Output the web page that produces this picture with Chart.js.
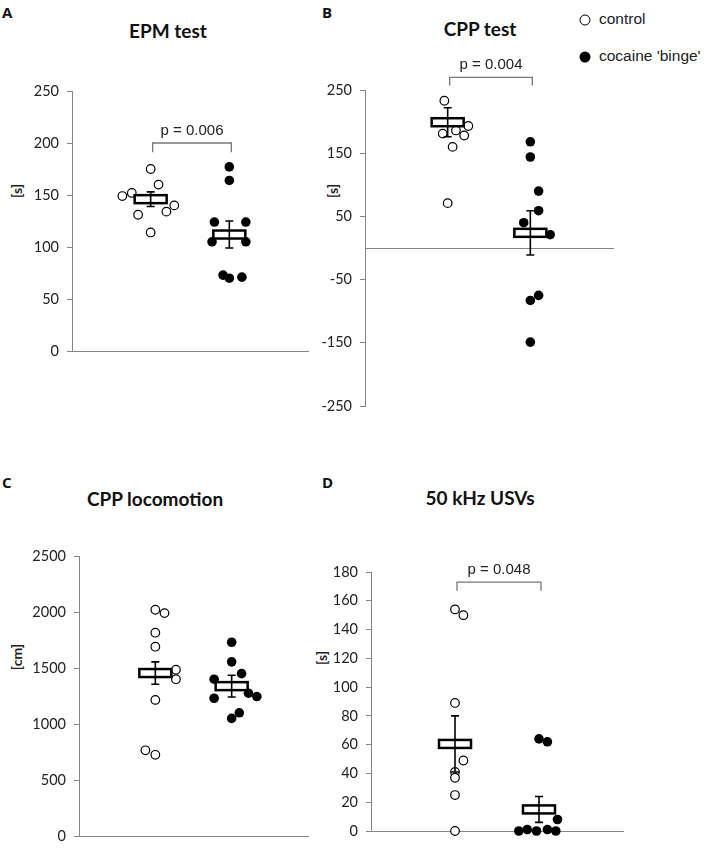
<html>
<head>
<title>EPM, CPP and USV results</title>
<script src="https://cdn.jsdelivr.net/npm/chart.js@4.4.0/dist/chart.umd.min.js"></script>
<style>
	body { margin: 0; background: #fff; width: 709px; height: 863px; position: relative; overflow: hidden; }
	canvas { position: absolute; }
	.letter { position: absolute; font: bold 15px "Open Sans", sans-serif; color: #111; }
	.title { position: absolute; font: bold 19px Lato, sans-serif; color: #111; transform: translate(-50%, -50%); white-space: nowrap; }
	.ylab { position: absolute; font: bold 14px Lato, sans-serif; color: #222; transform: translate(-50%, -50%) rotate(-90deg); white-space: nowrap; }
	.legend { position: absolute; font: 15.5px "Liberation Sans", sans-serif; color: #222; white-space: nowrap; transform: translateY(-50%); }
	.dot { position: absolute; width: 11px; height: 11px; border-radius: 50%; box-sizing: border-box; transform: translate(-50%, -50%); }
</style>
</head>
<body>
<div class="letter" style="left:2px;top:2px">A</div>
<div class="letter" style="left:322px;top:2px">B</div>
<div class="letter" style="left:2px;top:472px">C</div>
<div class="letter" style="left:322px;top:472px">D</div>

<div class="title" style="left:168px;top:30px">EPM test</div>
<div class="title" style="left:480px;top:28px">CPP test</div>
<div class="title" style="left:155px;top:498px">CPP locomotion</div>
<div class="title" style="left:480px;top:497px">50 kHz USVs</div>

<div class="ylab" style="left:16px;top:191px">[s]</div>
<div class="ylab" style="left:332px;top:191px">[s]</div>
<div class="ylab" style="left:16px;top:657px">[cm]</div>
<div class="ylab" style="left:321px;top:658px">[s]</div>

<div class="dot" style="left:585px;top:20px;border:1.3px solid #000;background:#fff"></div>
<div class="legend" style="left:599px;top:19px">control</div>
<div class="dot" style="left:585px;top:57px;background:#000"></div>
<div class="legend" style="left:599px;top:56px">cocaine 'binge'</div>

<canvas id="chartA" width="320" height="380" style="left:0;top:0"></canvas>
<canvas id="chartB" width="409" height="430" style="left:300px;top:0"></canvas>
<canvas id="chartC" width="320" height="423" style="left:0;top:440px"></canvas>
<canvas id="chartD" width="409" height="423" style="left:300px;top:440px"></canvas>

<script>
	// group positions on the x scale (control, cocaine 'binge')
	const groupX = [1, 2];

	// A: EPM test [s]
	const epmControl = [149, 152, 175, 160, 140, 134, 131, 114];
	const epmControlX = [0.64, 0.76, 1.0, 1.1, 1.3, 1.2, 0.84, 1.0];
	const epmCocaine = [177, 164, 124, 124, 105, 105, 73, 70, 71];
	const epmCocaineX = [2.0, 2.0, 1.81, 2.21, 1.78, 2.21, 1.92, 2.0, 2.16];
	const epmMean = [146, 112];
	const epmSem = [7, 13];
	const epmTicks = { min: 0, max: 250, step: 50 };

	// B: CPP test [s]
	const cppControl = [233, 193, 186, 181, 178, 160, 71];
	const cppControlX = [0.96, 1.25, 1.1, 0.94, 1.2, 1.06, 1.0];
	const cppCocaine = [168, 144, 90, 59, 40, 21, -75, -83, -149];
	const cppCocaineX = [2.0, 2.0, 2.1, 2.1, 1.92, 2.24, 2.1, 2.0, 2.0];
	const cppMean = [199, 24];
	const cppSem = [23, 35];
	const cppTicks = { min: -250, max: 250, step: 100 };

	// C: CPP locomotion [cm]
	const locControl = [2020, 1990, 1815, 1690, 1485, 1400, 1215, 765, 725];
	const locControlX = [1.0, 1.12, 1.0, 1.0, 1.27, 1.27, 1.0, 0.87, 1.0];
	const locCocaine = [1730, 1555, 1450, 1400, 1275, 1245, 1230, 1100, 1050];
	const locCocaineX = [2.0, 2.0, 2.13, 1.77, 2.22, 2.33, 1.77, 2.1, 2.0];
	const locMean = [1455, 1338];
	const locSem = [100, 97];
	const locTicks = { min: 0, max: 2500, step: 500 };

	// D: 50 kHz USVs [s]
	const usvControl = [154, 150, 89, 49, 41, 37, 25, 0];
	const usvControlX = [1.0, 1.1, 1.0, 1.1, 1.0, 1.0, 1.0, 1.0];
	const usvCocaine = [64, 62, 8, 0, 1, 0, 1, 0];
	const usvCocaineX = [2.0, 2.1, 2.22, 1.76, 1.86, 1.97, 2.1, 2.2];
	const usvMean = [60.5, 15];
	const usvSem = [19.5, 9];
	const usvTicks = { min: 0, max: 180, step: 20 };

	// p-values with bracket top / bottom (in axis units)
	const epmP = { text: 'p = 0.006', top: 200, bottom: 191 };
	const cppP = { text: 'p = 0.004', top: 270, bottom: 257 };
	const usvP = { text: 'p = 0.048', top: 173, bottom: 167 };

	const axisColor = '#858585';

	// mean box, SEM whiskers and significance bracket
	const groupMarks = {
		id: 'groupMarks',
		afterDatasetsDraw(chart, args, opts) {
			const { ctx, scales: { x, y } } = chart;
			ctx.save();
			opts.means.forEach((m, i) => {
				const px = x.getPixelForValue(groupX[i]);
				const py = y.getPixelForValue(m);
				const hi = y.getPixelForValue(m + opts.errs[i]);
				const lo = y.getPixelForValue(m - opts.errs[i]);
				ctx.fillStyle = '#fff';
				ctx.strokeStyle = '#000';
				ctx.lineWidth = 2.5;
				ctx.fillRect(px - 16, py - 4, 32, 8);
				ctx.strokeRect(px - 16, py - 4, 32, 8);
				ctx.lineWidth = 1.6;
				ctx.beginPath();
				ctx.moveTo(px, hi); ctx.lineTo(px, lo);
				ctx.moveTo(px - 4, hi); ctx.lineTo(px + 4, hi);
				ctx.moveTo(px - 4, lo); ctx.lineTo(px + 4, lo);
				ctx.stroke();
			});
			if (opts.p) {
				const x1 = x.getPixelForValue(groupX[0]) + 2;
				const x2 = x.getPixelForValue(groupX[1]) + 2;
				const yt = y.getPixelForValue(opts.p.top);
				const yb = y.getPixelForValue(opts.p.bottom);
				ctx.strokeStyle = '#777';
				ctx.lineWidth = 1.3;
				ctx.beginPath();
				ctx.moveTo(x1, yb); ctx.lineTo(x1, yt); ctx.lineTo(x2, yt); ctx.lineTo(x2, yb);
				ctx.stroke();
				ctx.fillStyle = '#222';
				ctx.font = '15px "Liberation Sans", sans-serif';
				ctx.textAlign = 'center';
				ctx.textBaseline = 'middle';
				ctx.fillText(opts.p.text, (x1 + x2) / 2, yt - 12.5);
			}
			ctx.restore();
		}
	};

	function makeChart(id, control, controlX, cocaine, cocaineX, mean, sem, ticks, p, area) {
		new Chart(document.getElementById(id), {
			type: 'scatter',
			data: {
				datasets: [
					{
						label: 'control',
						data: control.map((v, i) => ({ x: controlX[i], y: v })),
						pointRadius: 4.3,
						pointBackgroundColor: '#fff',
						pointBorderColor: '#000',
						pointBorderWidth: 1.2,
						clip: false,
					},
					{
						label: "cocaine 'binge'",
						data: cocaine.map((v, i) => ({ x: cocaineX[i], y: v })),
						pointRadius: 4.8,
						pointBackgroundColor: '#000',
						pointBorderColor: '#000',
						pointBorderWidth: 0,
						clip: false,
					},
				],
			},
			options: {
				responsive: false,
				animation: false,
				events: [],
				layout: { padding: { left: 0, top: area.top, right: area.right, bottom: area.bottom } },
				scales: {
					x: {
						type: 'linear',
						min: 0,
						max: 3,
						position: area.zeroAxis ? { y: 0 } : 'bottom',
						ticks: { display: false },
						grid: { display: false },
						border: { color: axisColor, width: 1 },
						afterFit: (s) => { s.height = 0; },
					},
					y: {
						min: ticks.min,
						max: ticks.max,
						ticks: {
							stepSize: ticks.step,
							color: '#222',
							font: { family: 'Lato', size: 14.5 },
							padding: 8,
							callback: (v) => String(v),
						},
						grid: { drawOnChartArea: false, drawTicks: true, tickLength: 5, color: axisColor },
						border: { color: axisColor, width: 1 },
						afterFit: (s) => { s.width = area.left; },
					},
				},
				plugins: {
					legend: { display: false },
					tooltip: { enabled: false },
					groupMarks: { means: mean, errs: sem, p: p },
				},
			},
			plugins: [groupMarks],
		});
	}

	makeChart('chartA', epmControl, epmControlX, epmCocaine, epmCocaineX, epmMean, epmSem, epmTicks, epmP,
		{ left: 72, top: 91, right: 12, bottom: 29 });
	makeChart('chartB', cppControl, cppControlX, cppCocaine, cppCocaineX, cppMean, cppSem, cppTicks, cppP,
		{ left: 65, top: 90, right: 96, bottom: 24, zeroAxis: true });
	makeChart('chartC', locControl, locControlX, locCocaine, locCocaineX, locMean, locSem, locTicks, null,
		{ left: 79, top: 116, right: 12, bottom: 27 });
	makeChart('chartD', usvControl, usvControlX, usvCocaine, usvCocaineX, usvMean, usvSem, usvTicks, usvP,
		{ left: 71, top: 132, right: 86, bottom: 32 });
</script>
</body>
</html>
